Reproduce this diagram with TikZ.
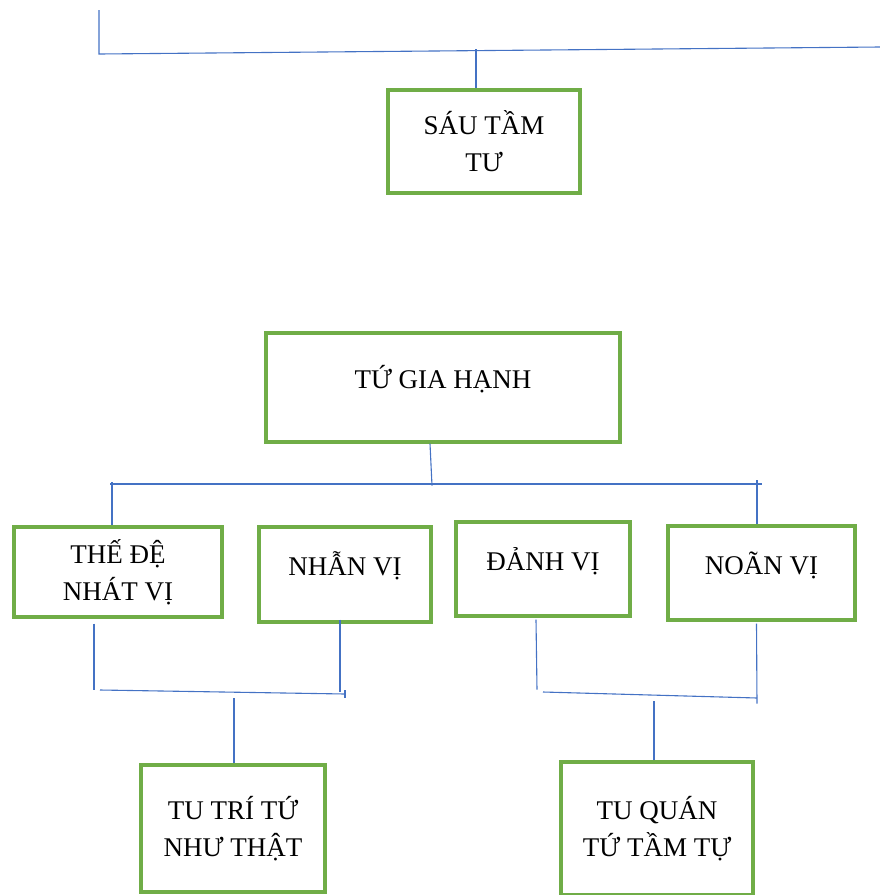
\documentclass[tikz,border=0pt]{standalone}
\usepackage{fontspec}
\setmainfont{Liberation Serif}
\definecolor{boxgreen}{RGB}{112,173,71}
\definecolor{linkblue}{RGB}{68,114,196}

\begin{document}
\begin{tikzpicture}[x=1pt, y=-1pt,
        box/.style={draw=boxgreen, line width=3.2pt, align=center, inner sep=2pt,
            font=\fontsize{27}{37}\selectfont},
        onerow/.style={text height=20pt, text depth=18pt},
        link/.style={draw=linkblue, line width=1.1pt}]
        \useasboundingbox (0, 0) rectangle (880, 895);

        \node[box, minimum width=192, minimum height=103] (stt) at (484, 141.5) {SÁU TẦM\\TƯ};
        \node[box, onerow, minimum width=354, minimum height=109] (tgh) at (443, 387.5) {TỨ GIA HẠNH};

        \node[box, minimum width=208, minimum height=90] (tdnv) at (118, 572) {THẾ ĐỆ\\NHÁT VỊ};
        \node[box, onerow, minimum width=172, minimum height=95] (nv) at (345, 574.5) {NHẪN VỊ};
        \node[box, onerow, minimum width=174, minimum height=94] (dv) at (543, 569) {ĐẢNH VỊ};
        \node[box, onerow, minimum width=187, minimum height=94] (noan) at (761.5, 573) {NOÃN VỊ};

        \node[box, minimum width=184, minimum height=127] (ttt) at (233, 828.5) {TU TRÍ TỨ\\NHƯ THẬT};
        \node[box, minimum width=192, minimum height=133] (tqt) at (657, 828.5) {TU QUÁN\\TỨ TẦM TỰ};

        % top bar
        \coordinate (topend) at (99, 10);
        \coordinate (topcorner) at (99, 54);
        \coordinate (topright) at (880, 47);
        \draw[link] (topend) -- (topcorner) -- (topright);
        \draw[link] ([xshift=-8]stt.north) -- ++(0, -39);

        % bar under TU GIA HANH
        \coordinate (busL) at (110, 484);
        \coordinate (busR) at (762, 484);
        \draw[link] ([xshift=-13]tgh.south) -- ++(2, 42);
        \draw[link] (busL) -- (busR);
        \draw[link] ([xshift=-6]tdnv.north) -- ++(0, -43);
        \draw[link] ([xshift=-4.5]noan.north) -- ++(0, -44);

        % left pair
        \coordinate (jl) at (100, 690);
        \coordinate (jr) at (345, 694);
        \draw[link] ([xshift=-24]tdnv.south) ++(0, 5) -- ++(0, 66);
        \draw[link] ([xshift=-5]nv.south) ++(0, -4) -- ++(0, 72);
        \draw[link] (jl) -- (jr);
        \draw[link] (jr) ++(0, -4) -- ++(0, 8);
        \draw[link] ([xshift=1]ttt.north) -- ++(0, -65);

        % right pair
        \coordinate (kl) at (543, 692);
        \coordinate (kr) at (757, 698);
        \draw[link] ([xshift=-7]dv.south) ++(0, 2) -- ++(1, 70);
        \draw[link] ([xshift=-5]noan.south) ++(0, 2) -- ++(0.5, 80);
        \draw[link] (kl) -- (kr);
        \draw[link] ([xshift=-3]tqt.north) -- ++(0, -59);
    \end{tikzpicture}
\end{document}
